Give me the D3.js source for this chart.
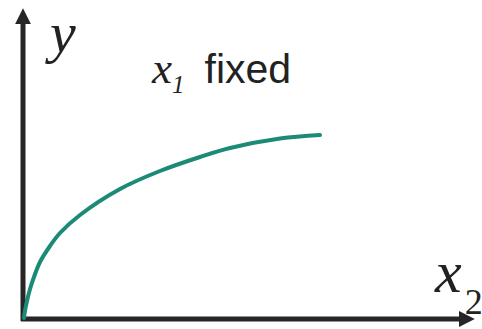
<!DOCTYPE html>
<html>
<head>
<meta charset="utf-8">
<script src="https://cdn.jsdelivr.net/npm/d3@7"></script>
<style>
  html, body { margin: 0; padding: 0; background: #fff; }
  svg { display: block; }
</style>
</head>
<body>
<div id="chart"></div>
<script>
// curve: x2 (input) vs y (output), x1 held fixed
const x2Values = [0.22, 0.44, 0.89, 1.56, 2.44, 3.78, 6.0, 8.22, 12.67, 21.56, 30.44, 39.33, 46.0, 57.11, 66.0];
const yValues  = [0.32, 2.58, 5.81, 9.68, 13.55, 18.39, 23.55, 27.74, 33.55, 41.94, 47.74, 52.26, 55.16, 58.23, 59.35];
const xLabel = "x";
const xSub = "2";
const yLabel = "y";
const noteVar = "x";
const noteSub = "1";
const noteText = "fixed";

const width = 482, height = 329;
const origin = { x: 23, y: 319 };

const svg = d3.select("#chart").append("svg")
  .attr("width", width)
  .attr("height", height);

const x = d3.scaleLinear().domain([0, 100]).range([origin.x, origin.x + 450]);
const y = d3.scaleLinear().domain([0, 100]).range([origin.y, origin.y - 310]);

const axisColor = "#262626";
const teal = "#1b8a77";

// arrow head marker
svg.append("defs").append("marker")
  .attr("id", "arrow")
  .attr("viewBox", "0 0 10 10")
  .attr("refX", 2)
  .attr("refY", 5)
  .attr("markerWidth", 3.2)
  .attr("markerHeight", 3.2)
  .attr("orient", "auto")
  .append("path")
  .attr("d", "M0,0 L10,5 L0,10 z")
  .attr("fill", axisColor);

// axes
svg.append("line")
  .attr("x1", x(0)).attr("y1", y(0) + 2)
  .attr("x2", x(0)).attr("y2", y(100) + 12)
  .attr("stroke", axisColor)
  .attr("stroke-width", 5)
  .attr("marker-end", "url(#arrow)");

svg.append("line")
  .attr("x1", x(0) - 2).attr("y1", y(0))
  .attr("x2", x(100) - 11).attr("y2", y(0))
  .attr("stroke", axisColor)
  .attr("stroke-width", 5)
  .attr("marker-end", "url(#arrow)");

// the curve
const pts = x2Values.map((v, i) => [v, yValues[i]]);
const line = d3.line()
  .x(d => x(d[0]))
  .y(d => y(d[1]))
  .curve(d3.curveCatmullRom.alpha(0.5));

svg.append("path")
  .datum(pts)
  .attr("d", line)
  .attr("fill", "none")
  .attr("stroke", teal)
  .attr("stroke-width", 4)
  .attr("stroke-linecap", "round");

// labels
const serif = "'Liberation Serif', 'Times New Roman', serif";

svg.append("text")
  .attr("x", 50).attr("y", 52)
  .attr("font-family", serif)
  .attr("font-style", "italic")
  .attr("font-size", 58)
  .attr("fill", "#222")
  .text(yLabel);

const xl = svg.append("text")
  .attr("x", 435).attr("y", 292)
  .attr("font-family", serif)
  .attr("font-style", "italic")
  .attr("font-size", 60)
  .attr("fill", "#222");
xl.append("tspan").text(xLabel);
xl.append("tspan")
  .attr("font-size", 36)
  .attr("font-style", "normal")
  .attr("dx", 3)
  .attr("dy", 22)
  .text(xSub);

const note = svg.append("text")
  .attr("x", 152).attr("y", 83)
  .attr("fill", "#222");
note.append("tspan")
  .attr("font-family", serif)
  .attr("font-style", "italic")
  .attr("font-size", 45)
  .text(noteVar);
note.append("tspan")
  .attr("font-family", serif)
  .attr("font-style", "italic")
  .attr("font-size", 25)
  .attr("dy", 10)
  .text(noteSub);
note.append("tspan")
  .attr("font-family", "'Liberation Sans', Arial, sans-serif")
  .attr("font-size", 41)
  .attr("dy", -10)
  .attr("dx", 20)
  .text(noteText);
</script>
</body>
</html>
